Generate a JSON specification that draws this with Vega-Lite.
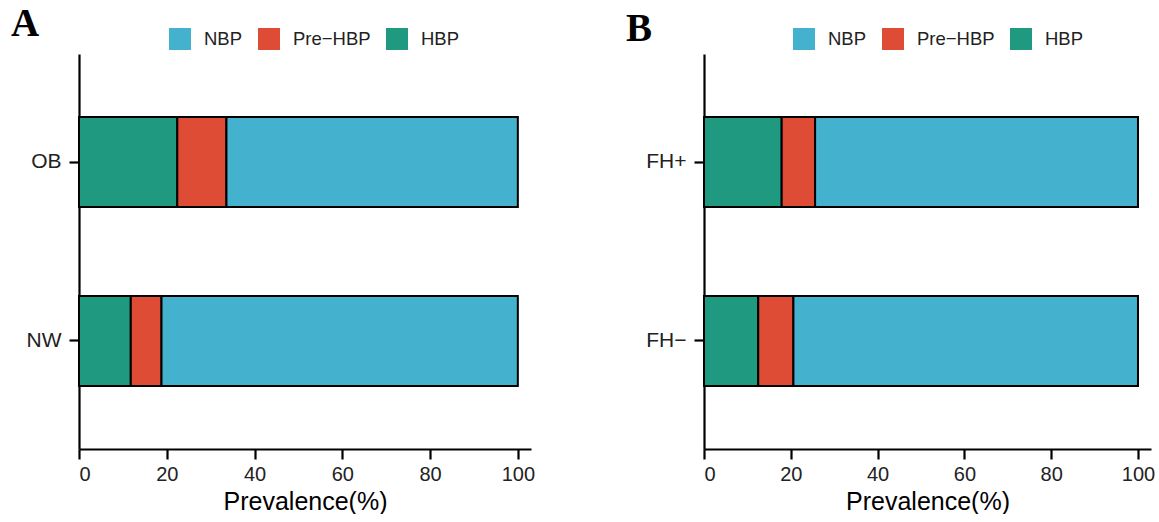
{
  "$schema": "https://vega.github.io/schema/vega-lite/v6.json",
  "background": "white",
  "padding": {"left": 11, "top": 5, "right": 0, "bottom": 0},
  "config": {
    "view": {"stroke": null},
    "font": "Liberation Sans",
    "axis": {
      "domainColor": "black", "domainWidth": 2.2,
      "tickColor": "black", "tickWidth": 2.2, "tickSize": 10,
      "grid": false,
      "labelFont": "Liberation Sans", "labelColor": "#222222",
      "titleFont": "Liberation Sans", "titleColor": "black", "titleFontWeight": "normal"
    },
    "legend": {
      "orient": "none", "direction": "horizontal", "title": null,
      "symbolType": "square", "symbolSize": 484, "symbolStrokeWidth": 0, "symbolOpacity": 1,
      "labelFont": "Liberation Sans", "labelFontSize": 18.5, "labelColor": "#222222",
      "labelOffset": 13, "columnPadding": 15, "padding": 0
    },
    "title": {"font": "Liberation Serif", "fontSize": 39, "fontWeight": "bold", "color": "black", "anchor": "start", "frame": "group", "offset": -16}
  },
  "data": {"values": [
    {"panel": "A", "group": "OB", "status": "HBP", "value": 22.4},
    {"panel": "A", "group": "OB", "status": "Pre−HBP", "value": 11.2},
    {"panel": "A", "group": "OB", "status": "NBP", "value": 66.4},
    {"panel": "A", "group": "NW", "status": "HBP", "value": 11.8},
    {"panel": "A", "group": "NW", "status": "Pre−HBP", "value": 7.0},
    {"panel": "A", "group": "NW", "status": "NBP", "value": 81.2},
    {"panel": "B", "group": "FH+", "status": "HBP", "value": 17.9},
    {"panel": "B", "group": "FH+", "status": "Pre−HBP", "value": 7.7},
    {"panel": "B", "group": "FH+", "status": "NBP", "value": 74.4},
    {"panel": "B", "group": "FH−", "status": "HBP", "value": 12.5},
    {"panel": "B", "group": "FH−", "status": "Pre−HBP", "value": 8.1},
    {"panel": "B", "group": "FH−", "status": "NBP", "value": 79.4}
  ]},
  "spacing": 91,
  "resolve": {"scale": {"color": "independent", "y": "independent", "x": "independent"}, "legend": {"color": "independent"}},
  "hconcat": [
    {
      "title": {"text": "A", "dx": -68},
      "width": 452, "height": 395,
      "transform": [
        {"filter": "datum.panel === 'A'"},
        {"calculate": "indexof(['HBP','Pre−HBP','NBP'], datum.status)", "as": "rank"}
      ],
      "mark": {"type": "bar", "stroke": "black", "strokeWidth": 2},
      "encoding": {
        "y": {"field": "group", "type": "nominal",
          "scale": {"domain": ["OB", "NW"], "paddingInner": 0.497, "paddingOuter": 0.352},
          "axis": {"title": null, "labelFontSize": 21, "labelPadding": 8}},
        "x": {"field": "value", "type": "quantitative", "stack": "zero",
          "scale": {"domain": [0, 103], "nice": false, "zero": true},
          "axis": {"values": [0, 20, 40, 60, 80, 100], "title": "Prevalence(%)", "titleFontSize": 25, "labelFontSize": 20, "labelPadding": 5, "titlePadding": 5}},
        "color": {"field": "status", "type": "nominal",
          "scale": {"domain": ["NBP", "Pre−HBP", "HBP"], "range": ["#44B1CE", "#DE4C36", "#1F9A80"]},
          "legend": {"legendX": 90, "legendY": -26}},
        "order": {"field": "rank", "type": "quantitative"}
      }
    },
    {
      "title": {"text": "B", "dx": -78, "dy": 5},
      "width": 447, "height": 395,
      "transform": [
        {"filter": "datum.panel === 'B'"},
        {"calculate": "indexof(['HBP','Pre−HBP','NBP'], datum.status)", "as": "rank"}
      ],
      "mark": {"type": "bar", "stroke": "black", "strokeWidth": 2},
      "encoding": {
        "y": {"field": "group", "type": "nominal",
          "scale": {"domain": ["FH+", "FH−"], "paddingInner": 0.497, "paddingOuter": 0.352},
          "axis": {"title": null, "labelFontSize": 21, "labelPadding": 8}},
        "x": {"field": "value", "type": "quantitative", "stack": "zero",
          "scale": {"domain": [0, 103], "nice": false, "zero": true},
          "axis": {"values": [0, 20, 40, 60, 80, 100], "title": "Prevalence(%)", "titleFontSize": 25, "labelFontSize": 20, "labelPadding": 5, "titlePadding": 5}},
        "color": {"field": "status", "type": "nominal",
          "scale": {"domain": ["NBP", "Pre−HBP", "HBP"], "range": ["#44B1CE", "#DE4C36", "#1F9A80"]},
          "legend": {"legendX": 89, "legendY": -26}},
        "order": {"field": "rank", "type": "quantitative"}
      }
    }
  ]
}
